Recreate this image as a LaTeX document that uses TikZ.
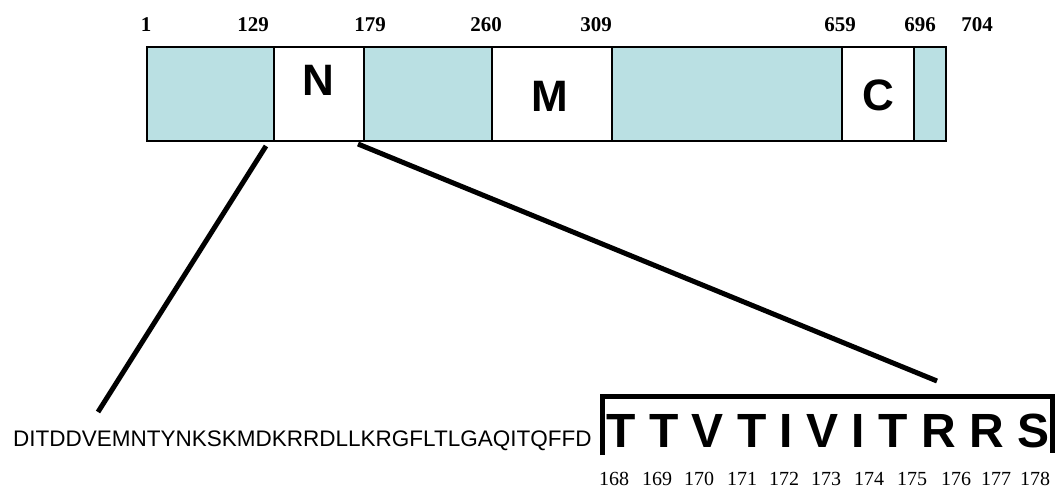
\documentclass[tikz,border=0pt]{standalone}
\usepackage{fontspec}
\setmainfont{Liberation Serif}
\newfontfamily\arial{Liberation Sans}
\definecolor{segcyan}{RGB}{186,224,227}
\begin{document}
\begin{tikzpicture}[x=1pt,y=-1pt,
  seg/.style={draw=black, line width=1.5pt, inner sep=0pt, outer sep=0pt, anchor=north west, minimum height=94pt},
  cyanseg/.style={seg, fill=segcyan},
  whiteseg/.style={seg, fill=white},
  domlbl/.style={inner sep=0pt, font=\arial\bfseries\fontsize{44}{44}\selectfont},
  poslbl/.style={inner sep=0pt, anchor=base, font=\bfseries\fontsize{21}{24}\selectfont},
  resnum/.style={inner sep=0pt, anchor=base, font=\fontsize{20}{24}\selectfont},
  zoomline/.style={line width=5pt, black},
  bracket/.style={line width=5pt, black}]
\useasboundingbox (0,0) rectangle (1060,489);
% bar segments
\node[cyanseg, minimum width=127pt] (s1) at (147,47) {};
\node[whiteseg, minimum width=90pt] (s2) at (274,47) {};
\node[cyanseg, minimum width=128pt] (s3) at (364,47) {};
\node[whiteseg, minimum width=120pt] (s4) at (492,47) {};
\node[cyanseg, minimum width=230pt] (s5) at (612,47) {};
\node[whiteseg, minimum width=72pt] (s6) at (842,47) {};
\node[cyanseg, minimum width=32pt] (s7) at (914,47) {};
% domain labels
\node[domlbl] (tN) at (318,80) {N};
\node[domlbl] (tM) at (550,96) {M};
\node[domlbl] (tC) at (878,95) {C};
% position labels
\node[poslbl] (p1) at (146,32) {1};
\node[poslbl] (p129) at (253,32) {129};
\node[poslbl] (p179) at (370,32) {179};
\node[poslbl] (p260) at (486,32) {260};
\node[poslbl] (p309) at (596,32) {309};
\node[poslbl] (p659) at (840,32) {659};
\node[poslbl] (p696) at (920,32) {696};
\node[poslbl] (p704) at (977,32) {704};
% sequence
\node[inner sep=0pt, anchor=base west, font=\arial\fontsize{22.5}{26}\selectfont] (seq) at (13,446) {DITDDVEMNTYNKSKMDKRRDLLKRGFLTLGAQITQFFD};
\node[inner sep=0pt, anchor=base, font=\arial\bfseries\fontsize{48}{48}\selectfont] (motif) at (828,447) {T T V T I V I T R R S};
% bracket
\coordinate (bl) at (602,455);
\coordinate (tl) at (602,396);
\coordinate (tr) at (1052,396);
\coordinate (br) at (1052,453);
\draw[bracket] (bl) -- (tl) -- (tr) -- (br);
% residue numbers
\foreach \n/\x in {168/614,169/657,170/699,171/742,172/784,173/826,174/869,175/912,176/956,177/996,178/1035}
  \node[resnum] (r\n) at (\x,485) {\n};
% zoom lines
\coordinate (l1a) at (266,146);
\coordinate (l1b) at (98,412);
\coordinate (l2a) at (358,144);
\coordinate (l2b) at (937,381);
\draw[zoomline] (l1a) -- (l1b);
\draw[zoomline] (l2a) -- (l2b);
\end{tikzpicture}
\end{document}
